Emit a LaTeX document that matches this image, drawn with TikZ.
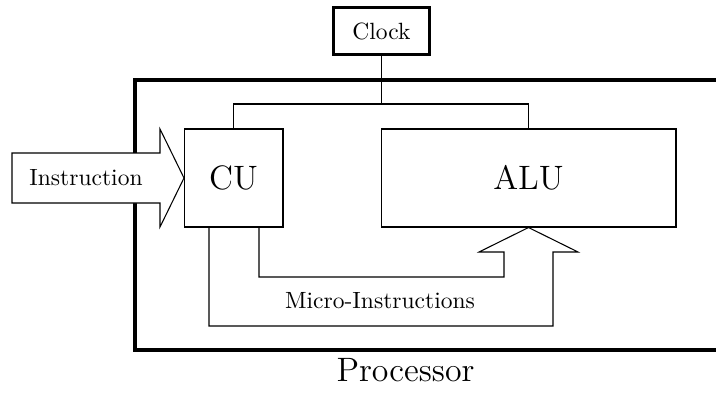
\documentclass[tikz,border=0pt]{standalone}
\usetikzlibrary{calc}

\begin{document}
\begin{tikzpicture}[x=0.4255pt, y=-0.4255pt,
  thinline/.style={line width=0.45pt, line join=miter},
  unitbox/.style={draw, thinline, rectangle, inner sep=0pt, font=\Large},
  clockbox/.style={draw, line width=1.3pt, rectangle, inner sep=0pt},
  procframe/.style={line width=1.6pt},
  plainlabel/.style={inner sep=0pt}]

  \useasboundingbox (0,0) rectangle (716,396);
  \clip (0,0) rectangle (716,396);

  % processor frame (runs past the right edge)
  \draw[procframe] (760,80) -- (135,80) -- (135,350) -- (760,350);
  \node[plainlabel, font=\Large, anchor=base] (proc) at (405.5,381.5) {Processor};

  % incoming instruction arrow
  \draw[thinline, fill=white] (12,153) -- (160,153) -- (160,129) -- (184,178)
        -- (160,227) -- (160,203) -- (12,203) -- cycle;
  \node[plainlabel] (instr) at (86,178) {Instruction};

  % units
  \node[clockbox, minimum width=41pt, minimum height=20.2pt] (clk) at (381.5,31) {Clock};
  \node[unitbox, minimum width=42.1pt, minimum height=41.7pt] (cu) at (233.5,178) {CU};
  \node[unitbox, minimum width=125.5pt, minimum height=41.7pt] (alu) at (528.5,178) {ALU};

  % clock distribution
  \coordinate (bus) at (clk.south |- 0,104);
  \draw[thinline] (clk.south) -- (bus);
  \draw[thinline] (cu.north) |- (bus) -| (alu.north);

  % micro-instruction arrow from CU to ALU
  \coordinate (mA) at ($(cu.south)+(-24.5,0)$);
  \coordinate (mB) at ($(cu.south)+(25.5,0)$);
  \draw[thinline] (mA) -- (mA |- 0,326) -- (553,326) -- (553,252) -- (578,252)
        -- (alu.south) -- (479,252) -- (504,252) -- (504,277) -- (mB |- 0,277) -- (mB);
  \node[plainlabel] (micro) at (380,301) {Micro-Instructions};
\end{tikzpicture}
\end{document}
